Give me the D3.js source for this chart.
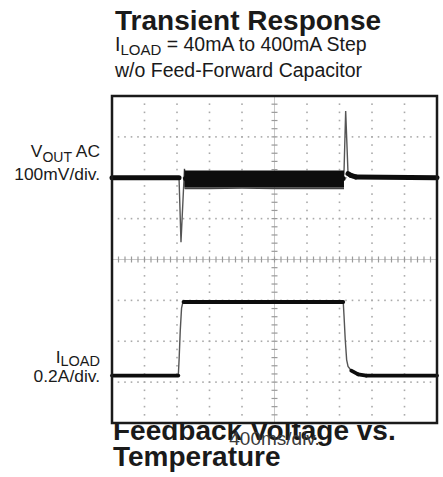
<!DOCTYPE html>
<html><head><meta charset="utf-8">
<script src="https://cdn.jsdelivr.net/npm/d3@7"></script>
<style>html,body{margin:0;padding:0;background:#fff;}svg{display:block;font-family:"Liberation Sans",Arial,sans-serif;}</style>
</head><body>
<svg id="c" width="443" height="477"></svg>
<script>
// ---- data (time in ms, 400 ms/div; VOUT in mV deviation; ILOAD in mA) ----
const timeDomain = [0, 4000];
const divDomain = [-4, 4];
const timeDivs = d3.range(0, 4001, 400);
const yDivs = d3.range(-4, 5, 1);

const voutTime = [0, 825, 849, 892, 905, 2845, 2855, 2876, 2905, 2940, 3000, 4000];
const voutMv   = [0,   0, -158, 22,  -2,   -2,   10,  163,   10,    6,    2,    0];

const bandTime  = [890, 900, 1200, 1600, 2000, 2400, 2855];
const bandHi    = [ 22,  18,   18,   18,   18,   18,   18];
const bandCore  = [-22, -23,  -23,  -23,  -23,  -24,  -24];
const bandLo    = [-26, -28,  -28,  -27,  -28,  -28,  -28];

const iloadTime = [0, 816, 826, 840, 856, 870, 880, 2846, 2856, 2870, 2888, 2905, 2945, 3030, 3130, 4000];
const iloadMa   = [40, 40, 120, 260, 370, 395, 400,  400,  330,  220,  117,   85,   64,   46,   40,   40];

const voutOffsetDiv = 2;      // channel position
const voutMvPerDiv = 100;
const iloadZeroDiv = -3.04;
const iloadMaPerDiv = 200;

// ---- layout ----
const svg = d3.select("#c");
const x = d3.scaleLinear().domain(timeDomain).range([112, 437]);
const y = d3.scaleLinear().domain(divDomain).range([423, 96]);
const yV = mv => y(voutOffsetDiv + mv / voutMvPerDiv);
const yI = ma => y(iloadZeroDiv + ma / iloadMaPerDiv);

svg.append("rect").attr("width", 443).attr("height", 477).attr("fill", "#fff");

// Titles
svg.append("text").attr("x", 115).attr("y", 30).attr("font-size", 28).attr("font-weight", "bold").attr("fill", "#1a1a1a").text("Transient Response");
const s1 = svg.append("text").attr("x", 115).attr("y", 51).attr("font-size", 19.5).attr("fill", "#1a1a1a");
s1.append("tspan").text("I");
s1.append("tspan").attr("font-size", 15).attr("dy", 4).text("LOAD");
s1.append("tspan").attr("dy", -4).text(" = 40mA to 400mA Step");
svg.append("text").attr("x", 115).attr("y", 77).attr("font-size", 19.5).attr("fill", "#1a1a1a").text("w/o Feed-Forward Capacitor");

// Bottom bold text (partially hidden behind plot)
svg.append("text").attr("x", 113).attr("y", 440).attr("font-size", 28).attr("font-weight", "bold").attr("fill", "#1a1a1a").text("Feedback Voltage vs.");
svg.append("text").attr("x", 113).attr("y", 466).attr("font-size", 28).attr("font-weight", "bold").attr("fill", "#1a1a1a").text("Temperature");

// Plot background
svg.append("rect").attr("x", x(0)).attr("y", y(4)).attr("width", x(4000) - x(0)).attr("height", y(-4) - y(4)).attr("fill", "#fff");

// Grid dots at 1/5 division
const g = svg.append("g");
const stepT = 400 / 5, stepD = 1 / 5;
timeDivs.slice(1, -1).forEach(t => {
  if (t === 2000) return;
  d3.range(-4, 4.0001, stepD).forEach(d => {
    g.append("rect").attr("x", x(t) - 0.8).attr("y", y(d) - 0.8).attr("width", 1.6).attr("height", 1.6).attr("fill", "#aaa");
  });
});
yDivs.slice(1, -1).forEach(d => {
  if (d === 0) return;
  d3.range(0, 4000.1, stepT).forEach(t => {
    g.append("rect").attr("x", x(t) - 0.8).attr("y", y(d) - 0.8).attr("width", 1.6).attr("height", 1.6).attr("fill", "#aaa");
  });
});
// center axes with minor ticks
g.append("line").attr("x1", x(0)).attr("x2", x(4000)).attr("y1", y(0)).attr("y2", y(0)).attr("stroke", "#c8c8c8").attr("stroke-width", 1);
g.append("line").attr("x1", x(2000)).attr("x2", x(2000)).attr("y1", y(-4)).attr("y2", y(4)).attr("stroke", "#c8c8c8").attr("stroke-width", 1);
d3.range(0, 4000.1, stepT).forEach(t => {
  g.append("line").attr("x1", x(t)).attr("x2", x(t)).attr("y1", y(0) - 3).attr("y2", y(0) + 3).attr("stroke", "#9a9a9a").attr("stroke-width", 1.2);
});
d3.range(-4, 4.0001, stepD).forEach(d => {
  g.append("line").attr("x1", x(2000) - 3).attr("x2", x(2000) + 3).attr("y1", y(d)).attr("y2", y(d)).attr("stroke", "#9a9a9a").attr("stroke-width", 1.2);
});

// ---- traces ----
function drawTrace(times, vals, yf, thick) {
  const pts = times.map((t, i) => [x(t), yf(vals[i])]);
  svg.append("path").attr("d", d3.line()(pts)).attr("fill", "none").attr("stroke", "#555").attr("stroke-width", 1.4);
  for (let i = 0; i < pts.length - 1; i++) {
    const dx = pts[i + 1][0] - pts[i][0], dy = pts[i + 1][1] - pts[i][1];
    if (Math.abs(dy) <= Math.abs(dx) * 1.2) {
      svg.append("path").attr("d", d3.line()([pts[i], pts[i + 1]])).attr("fill", "none")
        .attr("stroke", "#0d0d0d").attr("stroke-width", thick).attr("stroke-linecap", "round");
    }
  }
}
drawTrace(voutTime, voutMv, yV, 5);

// ripple band
const bandPts = bandTime.map((t, i) => ({ t, hi: bandHi[i], core: bandCore[i], lo: bandLo[i] }));
svg.append("path").attr("d", d3.area().x(d => x(d.t)).y0(d => yV(d.lo)).y1(d => yV(d.core))(bandPts)).attr("fill", "#444");
svg.append("path").attr("d", d3.area().x(d => x(d.t)).y0(d => yV(d.core)).y1(d => yV(d.hi))(bandPts)).attr("fill", "#0d0d0d");

drawTrace(iloadTime, iloadMa, yI, 3.8);

// Border
svg.append("rect").attr("x", x(0)).attr("y", y(4)).attr("width", x(4000) - x(0)).attr("height", y(-4) - y(4))
  .attr("fill", "none").attr("stroke", "#1a1a1a").attr("stroke-width", 2.5);

// x label overlapping bottom text
svg.append("text").attr("x", x(2000)).attr("y", 445).attr("text-anchor", "middle").attr("font-size", 19).attr("fill", "#3a3a3a").text("400ms/div.");

// Channel labels
const v1 = svg.append("text").attr("x", 100).attr("y", 157).attr("text-anchor", "end").attr("font-size", 17.4).attr("fill", "#1a1a1a");
v1.append("tspan").text("V");
v1.append("tspan").attr("font-size", 14).attr("dy", 5).text("OUT");
v1.append("tspan").attr("dy", -5).text(" AC");
svg.append("text").attr("x", 100).attr("y", 180).attr("text-anchor", "end").attr("font-size", 17.4).attr("fill", "#1a1a1a").text("100mV/div.");
const i1 = svg.append("text").attr("x", 100).attr("y", 363).attr("text-anchor", "end").attr("font-size", 17.4).attr("fill", "#1a1a1a");
i1.append("tspan").text("I");
i1.append("tspan").attr("font-size", 14.5).attr("dy", 3).text("LOAD");
svg.append("text").attr("x", 100).attr("y", 382).attr("text-anchor", "end").attr("font-size", 17.4).attr("fill", "#1a1a1a").text("0.2A/div.");
</script>
</body></html>
